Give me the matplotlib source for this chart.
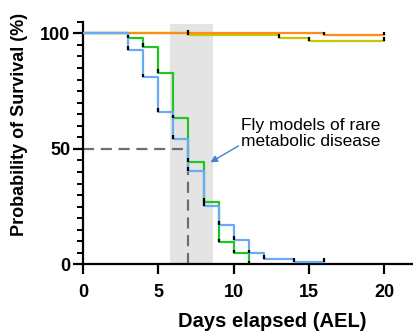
import numpy as np
import matplotlib.pyplot as plt
from matplotlib.ticker import MultipleLocator

plt.rcParams['font.family'] = ['Liberation Sans', 'DejaVu Sans']

# Kaplan-Meier style survival data (days, % surviving)
blue_t = [0, 3, 4, 5, 6, 7, 8, 9, 10, 11, 12, 14, 16]
blue_s = [100, 93, 81, 66, 54.5, 40.6, 25.5, 17, 10.5, 4.8, 2.3, 1.2, 1.2]

green_t = [0, 3, 4, 5, 6, 7, 8, 9, 10, 11]
green_s = [100, 97.8, 94.3, 83, 63.2, 44.3, 27, 9.6, 4.8, 0]

orange_t = [0, 7, 16, 20]
orange_s = [100, 100, 99.2, 99.2]

yellow_t = [0, 7, 13, 15, 20]
yellow_s = [100, 99.2, 98.1, 96.8, 96.8]

shade_x = (5.8, 8.6)
median_day = 7
median_val = 50

x_ticks = [0, 5, 10, 15, 20]
y_ticks = [0, 50, 100]


def draw_curve(ax, t, s, color, censor_from=1):
    ax.step(t, s, where='post', color=color, lw=1.6, zorder=3)
    # small black censor marks just above each new level
    for ti, si in zip(t[censor_from:], s[censor_from:]):
        ax.plot([ti, ti], [si, si + 1.6], color='black', lw=1.6, zorder=4,
                solid_capstyle='butt')


fig = plt.figure(figsize=(4.13, 3.36), dpi=100)
ax = fig.add_axes([0.201, 0.213, 0.799, 0.722])

ax.axvspan(shade_x[0], shade_x[1], ymin=0, ymax=104 / 105,
           color='#e4e4e4', lw=0, zorder=0)
ax.plot([0, median_day], [median_val, median_val], color='#6e6e6e',
        lw=1.6, dashes=(5, 3), zorder=2)
ax.plot([median_day, median_day], [0, median_val], color='#6e6e6e',
        lw=1.6, dashes=(5, 3), zorder=2)

draw_curve(ax, yellow_t, yellow_s, '#c8c800')
draw_curve(ax, orange_t, orange_s, '#ff8c1a', censor_from=1)
draw_curve(ax, green_t, green_s, '#22c422')
draw_curve(ax, blue_t, blue_s, '#6aaaf5')

ax.annotate('Fly models of rare\nmetabolic disease', xy=(8.45, 44.2),
            xytext=(10.5, 50.0), fontsize=12.5, color='black',
            ha='left', va='bottom', linespacing=1.05,
            arrowprops=dict(arrowstyle='-|>', color='#4a7fd0', lw=1.0,
                            mutation_scale=10, shrinkA=0, shrinkB=0,
                            relpos=(0.0, 0.15)))

ax.set_xlim(0, 21.9)
ax.set_ylim(0, 105)
ax.set_xticks(x_ticks)
ax.set_yticks(y_ticks)
ax.yaxis.set_minor_locator(MultipleLocator(5))

for side in ['top', 'right']:
    ax.spines[side].set_visible(False)
for side in ['left', 'bottom']:
    ax.spines[side].set_linewidth(1.6)

ax.tick_params(which='major', length=7, width=1.6, labelsize=13)
ax.tick_params(which='minor', length=4, width=1.4)
ax.tick_params(axis='x', pad=7)
ax.tick_params(axis='y', pad=2)
for lab in ax.get_xticklabels() + ax.get_yticklabels():
    lab.set_fontweight('bold')

ax.set_xlabel('Days elapsed (AEL)', fontsize=14.5, fontweight='bold')
ax.set_ylabel('Probability of Survival (%)', fontsize=13, fontweight='bold')
ax.xaxis.set_label_coords(0.573, -0.195)
ax.yaxis.set_label_coords(-0.168, 0.578)

fig.savefig('out.png', dpi=100)
